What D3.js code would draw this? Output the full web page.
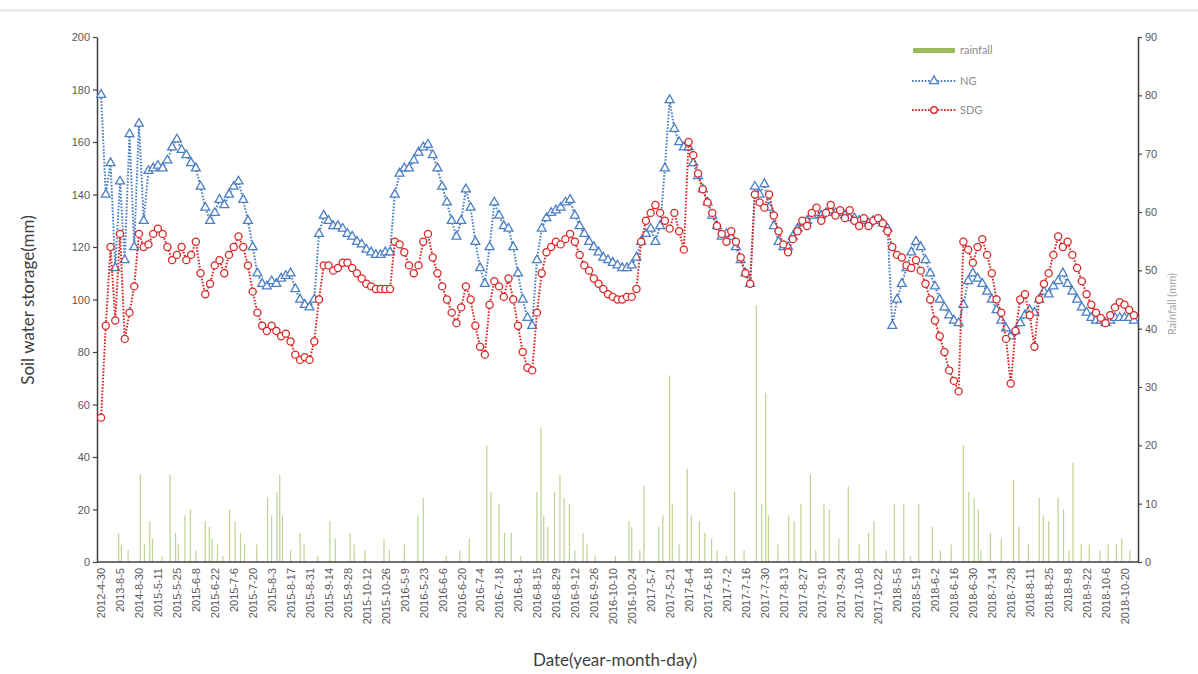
<!DOCTYPE html>
<html>
<head>
<meta charset="utf-8">
<script src="https://cdn.jsdelivr.net/npm/d3@7"></script>
<style>
body { margin: 0; background: #fff; }
svg { font-family: Lato, "Open Sans", sans-serif; }
</style>
</head>
<body>
<svg width="1198" height="674"></svg>
<script>
// Category labels, one every 14 days on the axis
const labels = ["2012-4-30","2013-8-5","2014-8-30","2015-5-11","2015-5-25","2015-6-8","2015-6-22","2015-7-6",
    "2015-7-20","2015-8-3","2015-8-17","2015-8-31","2015-9-14","2015-9-28","2015-10-12","2015-10-26",
    "2016-5-9","2016-5-23","2016-6-6","2016-6-20","2016-7-4","2016-7-18","2016-8-1","2016-8-15",
    "2016-8-29","2016-9-12","2016-9-26","2016-10-10","2016-10-24","2017-5-7","2017-5-21","2017-6-4",
    "2017-6-18","2017-7-2","2017-7-16","2017-7-30","2017-8-13","2017-8-27","2017-9-10","2017-9-24",
    "2017-10-8","2017-10-22","2018-5-5","2018-5-19","2018-6-2","2018-6-16","2018-6-30","2018-7-14",
    "2018-7-28","2018-8-11","2018-8-25","2018-9-8","2018-9-22","2018-10-6","2018-10-20"];

// Soil water storage (mm), one reading every 3.5 category days
const ngValues = [
    178,140,152,112,145,115,163,120,167,130,
    149,150,151,150,153,158,161,157,155,152,
    150,143,135,130,133,138,136,140,143,145,
    138,130,120,110,106,105,107,106,108,109,
    110,104,100,98,97,100,125,132,130,128,
    128,127,125,124,122,121,119,118,117,117,
    118,118,140,148,150,150,153,156,158,159,
    155,150,143,137,130,124,130,142,135,122,
    112,106,120,137,132,128,127,120,110,100,
    93,90,115,127,131,133,134,135,137,138,
    132,128,125,122,120,118,116,115,114,113,
    112,112,113,116,122,125,127,122,128,150,
    176,165,160,158,158,152,147,142,137,132,
    128,124,125,124,120,115,110,106,143,140,
    144,135,128,122,120,120,124,127,129,130,
    132,133,132,133,134,133,133,132,131,131,
    130,130,129,130,130,129,127,90,100,106,
    112,118,122,120,115,110,105,100,97,94,
    92,91,98,107,110,108,106,103,100,96,
    92,89,86,88,91,94,96,95,100,103,
    102,105,107,110,106,103,100,97,95,93,
    92,92,91,92,93,93,93,93,92];

const sdgValues = [
    55,90,120,92,125,85,95,105,125,120,
    121,125,127,125,120,115,117,120,115,117,
    122,110,102,106,113,115,110,117,120,124,
    120,113,103,95,90,88,90,88,86,87,
    84,79,77,78,77,84,100,113,113,111,
    112,114,114,112,110,108,106,105,104,104,
    104,104,122,121,118,113,110,113,122,125,
    116,110,105,100,95,91,97,105,100,90,
    82,79,98,107,105,101,108,100,90,80,
    74,73,95,110,118,120,122,121,123,125,
    122,117,113,111,108,106,104,102,101,100,
    100,101,101,104,122,130,133,136,133,130,
    127,133,126,119,160,155,148,142,137,133,
    128,125,122,126,122,116,110,106,140,137,
    135,140,132,126,121,118,123,126,130,128,
    133,135,130,133,136,132,134,131,134,130,
    128,131,128,130,131,129,126,120,117,116,
    113,112,115,111,106,100,92,86,80,73,
    69,65,122,119,114,120,123,117,110,100,
    95,85,68,88,100,102,94,82,100,106,
    110,117,124,120,122,117,112,107,102,98,
    95,93,91,94,97,99,98,96,94];

// Rainfall (mm) on category day
const rainDay = [13,15,29,32,36,38,51,55,57,62,66,77,80,82,86,95,99,103,106,123,126,130,132,134,147,150,
    169,173,184,187,209,213,224,234,238,272,285,288,294,298,303,322,325,327,330,335,339,342,346,356,359,
    390,392,401,412,415,420,422,433,436,442,446,451,468,484,488,491,493,508,512,517,524,534,538,552,567,
    571,586,593,604,614,637,641,645,648,657,674,678,693,696,700,707,711,718,724,744,754,
    20,45,70,90,115,140,160,195,255,265,310,350,365,380,398,427,455,462,475,500,528,545,560,580,598,
    620,628,650,665,685,715,730,738,750,760];
const rainMm = [5,3,15,3,7,4,15,5,3,8,9,7,6,4,3,9,7,5,3,11,8,12,15,8,5,3,
    7,4,5,3,4,2,3,8,11,4,20,12,10,5,5,12,23,8,6,12,15,11,10,5,3,
    7,6,13,6,8,32,10,16,8,7,5,4,12,44,10,29,8,8,7,10,15,10,9,13,5,
    7,10,10,10,6,20,12,11,9,5,14,6,11,8,7,11,9,17,3,3,4,
    2,1,2,1,3,2,1,2,1,2,1,2,1,1,2,3,2,1,2,3,2,4,3,2,1,
    2,3,2,4,3,2,3,2,3,2];

const pointStep = 3.5;
const ngColor = "#4a7fc4";
const sdgColor = "#dc2626";
const rainColor = "#9bbb59";

const svg = d3.select("svg");
const plotLeft = 97, plotRight = 1138, plotTop = 37, plotBottom = 562;

// light band at the very top
svg.append("rect")
    .attr("x", 0).attr("y", 9).attr("width", 1198).attr("height", 3)
    .attr("fill", "#ececec");

const x = d3.scaleLinear().domain([-3, 766]).range([plotLeft, plotRight]);
const yLeft = d3.scaleLinear().domain([0, 200]).range([plotBottom, plotTop]);
const yRight = d3.scaleLinear().domain([0, 90]).range([plotBottom, plotTop]);

// rainfall bars
svg.append("g")
    .selectAll("rect")
    .data(rainDay)
    .enter().append("rect")
    .attr("x", function (d) { return x(d) - 0.6; })
    .attr("y", function (d, i) { return yRight(rainMm[i]); })
    .attr("width", 1.2)
    .attr("height", function (d, i) { return plotBottom - yRight(rainMm[i]); })
    .attr("fill", rainColor)
    .attr("opacity", 0.65);

// axes
const leftAxis = svg.append("g")
    .attr("transform", "translate(" + plotLeft + ",0)")
    .call(d3.axisLeft(yLeft).tickValues(d3.range(0, 201, 20)).tickSize(4).tickSizeOuter(0));

const rightAxis = svg.append("g")
    .attr("transform", "translate(" + plotRight + ",0)")
    .call(d3.axisRight(yRight).tickValues(d3.range(0, 91, 10)).tickSize(4).tickSizeOuter(0));

const bottomAxis = svg.append("g")
    .attr("transform", "translate(0," + plotBottom + ")")
    .call(d3.axisBottom(x)
        .tickValues(labels.map(function (d, i) { return i * 14; }))
        .tickFormat(function (d, i) { return labels[i]; })
        .tickSize(0).tickSizeOuter(0));

bottomAxis.selectAll("text")
    .attr("transform", "rotate(-90)")
    .attr("text-anchor", "end")
    .attr("x", -6)
    .attr("y", 0)
    .attr("dy", "0.35em");

[leftAxis, rightAxis, bottomAxis].forEach(function (a) {
    a.select(".domain").attr("stroke", "#404040").attr("stroke-width", 1.5);
    a.selectAll(".tick line").attr("stroke", "#404040").attr("stroke-width", 1.2);
    a.selectAll("text").attr("fill", "#595959").style("font-size", "11px");
});
bottomAxis.select(".domain").attr("d", "M" + plotLeft + ",0H" + plotRight);

// axis titles
svg.append("text")
    .attr("transform", "translate(34," + 300 + ")rotate(-90)")
    .attr("text-anchor", "middle")
    .attr("fill", "#404040")
    .style("font-size", "17px")
    .text("Soil water storage(mm)");

svg.append("text")
    .attr("transform", "translate(1176," + 304 + ")rotate(-90)")
    .attr("text-anchor", "middle")
    .attr("fill", "#a6a6a6")
    .style("font-size", "11px")
    .text("Rainfall (mm)");

svg.append("text")
    .attr("x", 615).attr("y", 666)
    .attr("text-anchor", "middle")
    .attr("fill", "#404040")
    .style("font-size", "17px")
    .text("Date(year-month-day)");

// soil water series
function drawSeries(values, color, shape) {
    const line = d3.line()
        .x(function (d, i) { return x(i * pointStep); })
        .y(function (d) { return yLeft(d); });
    svg.append("path")
        .datum(values)
        .attr("d", line)
        .attr("fill", "none")
        .attr("stroke", color)
        .attr("stroke-width", 2)
        .attr("stroke-dasharray", "1.6,1.6");
    svg.append("g")
        .selectAll("path")
        .data(values)
        .enter().append("path")
        .attr("transform", function (d, i) { return "translate(" + x(i * pointStep) + "," + yLeft(d) + ")"; })
        .attr("d", d3.symbol().type(shape).size(shape === d3.symbolCircle ? 40 : 34))
        .attr("fill", "#fff")
        .attr("stroke", color)
        .attr("stroke-width", 1.3);
}
drawSeries(ngValues, ngColor, d3.symbolTriangle);
drawSeries(sdgValues, sdgColor, d3.symbolCircle);

// legend
const legend = svg.append("g").attr("transform", "translate(912,0)");
legend.append("rect")
    .attr("x", 1).attr("y", 48).attr("width", 42).attr("height", 5)
    .attr("fill", rainColor);
legend.append("text").attr("x", 48).attr("y", 54).text("rainfall");

[["NG", ngColor, d3.symbolTriangle, 81], ["SDG", sdgColor, d3.symbolCircle, 110]].forEach(function (item) {
    legend.append("line")
        .attr("x1", 0).attr("x2", 45).attr("y1", item[3]).attr("y2", item[3])
        .attr("stroke", item[1]).attr("stroke-width", 1.8).attr("stroke-dasharray", "1.6,1.6");
    legend.append("path")
        .attr("transform", "translate(22," + item[3] + ")")
        .attr("d", d3.symbol().type(item[2]).size(34))
        .attr("fill", "#fff").attr("stroke", item[1]).attr("stroke-width", 1.3);
    legend.append("text").attr("x", 48).attr("y", item[3] + 4).text(item[0]);
});
legend.selectAll("text").attr("fill", "#8c8c8c").style("font-size", "11px");
</script>
</body>
</html>
